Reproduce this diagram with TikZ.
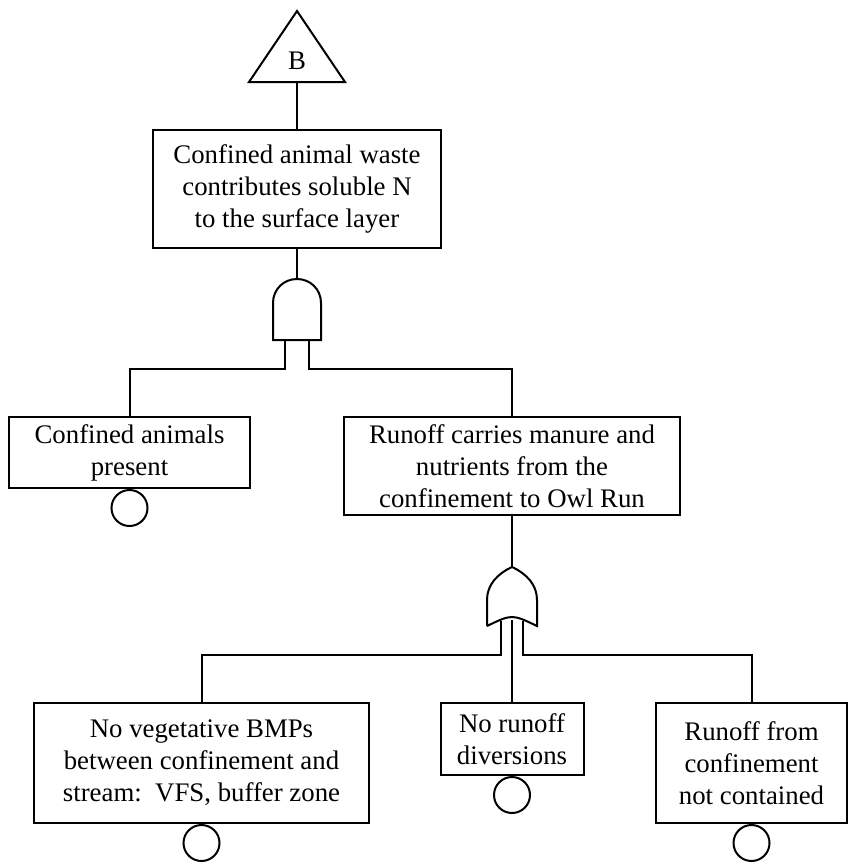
\documentclass[tikz,border=0pt]{standalone}
\usepackage{fontspec}
\setmainfont{Liberation Serif}
\usetikzlibrary{positioning}
\begin{document}
\begin{tikzpicture}[x=0.5pt,y=-0.5pt,line width=1pt,
	event/.style={draw,align=center,inner sep=0pt,font=\fontsize{13.4}{16}\selectfont},
	basic/.style={draw,circle,minimum size=18pt,inner sep=0pt}]
	\useasboundingbox (0,0) rectangle (849,867);
	%转移符号
	\draw (249,82) -- (297,11) -- (345,82) -- cycle;
	\node[font=\fontsize{13.4}{16}\selectfont] (B) at (297,61) {B};
	\coordinate (tri) at (297,82);
	%事件
	\node[event,minimum width=144pt,minimum height=59pt] (top) at (297,189)
	{Confined animal waste\\contributes soluble N\\to the surface layer};
	\node[event,minimum width=120.5pt,minimum height=35.5pt] (left) at (129.5,452.5)
	{Confined animals\\present};
	\node[event,minimum width=168pt,minimum height=49pt] (right) at (512,466)
	{Runoff carries manure and\\nutrients from the\\confinement to Owl Run};
	\node[event,minimum width=167.5pt,minimum height=60pt] (veg) at (201.5,763)
	{No vegetative BMPs\\between confinement and\\stream:\ \ VFS, buffer zone};
	\node[event,minimum width=71.5pt,minimum height=36pt] (div) at (512,739)
	{No runoff\\diversions};
	\node[event,minimum width=95.5pt,minimum height=60pt] (cont) at (751.5,763)
	{Runoff from\\confinement\\not contained};
	%底事件
	\node[basic,below=0pt of left] (left-e) {};
	\node[basic,below=0pt of veg] (veg-e) {};
	\node[basic,below=0pt of div] (div-e) {};
	\node[basic,below=0pt of cont] (cont-e) {};
	%与门
	\draw (273,340) -- (273,303) .. controls (273,289) and (284,279) .. (297,279)
	.. controls (310,279) and (321,289) .. (321,303) -- (321,340) -- cycle;
	\coordinate (and-top) at (297,279);
	\coordinate (and-l) at (285,340);
	\coordinate (and-r) at (309,340);
	%或门
	\draw (487,626) -- (487,600) .. controls (487,585) and (497,574) .. (512,567)
	.. controls (527,574) and (537,585) .. (537,600) -- (537,626)
	.. controls (512,614) .. (487,626);
	\coordinate (or-top) at (512,567);
	\coordinate (or-l) at (501,621.2);
	\coordinate (or-m) at (512,620);
	\coordinate (or-r) at (523,621.2);
	%线
	\draw (tri) -- (top.north);
	\draw (top.south) -- (and-top);
	\draw (and-l) -- ++(0,29) -| (left.north);
	\draw (and-r) -- ++(0,29) -| (right.north);
	\draw (right.south) -- (or-top);
	\draw (or-l) -- (501,655) -| (veg.north);
	\draw (or-m) -- (div.north);
	\draw (or-r) -- (523,655) -| (cont.north);
\end{tikzpicture}
\end{document}
